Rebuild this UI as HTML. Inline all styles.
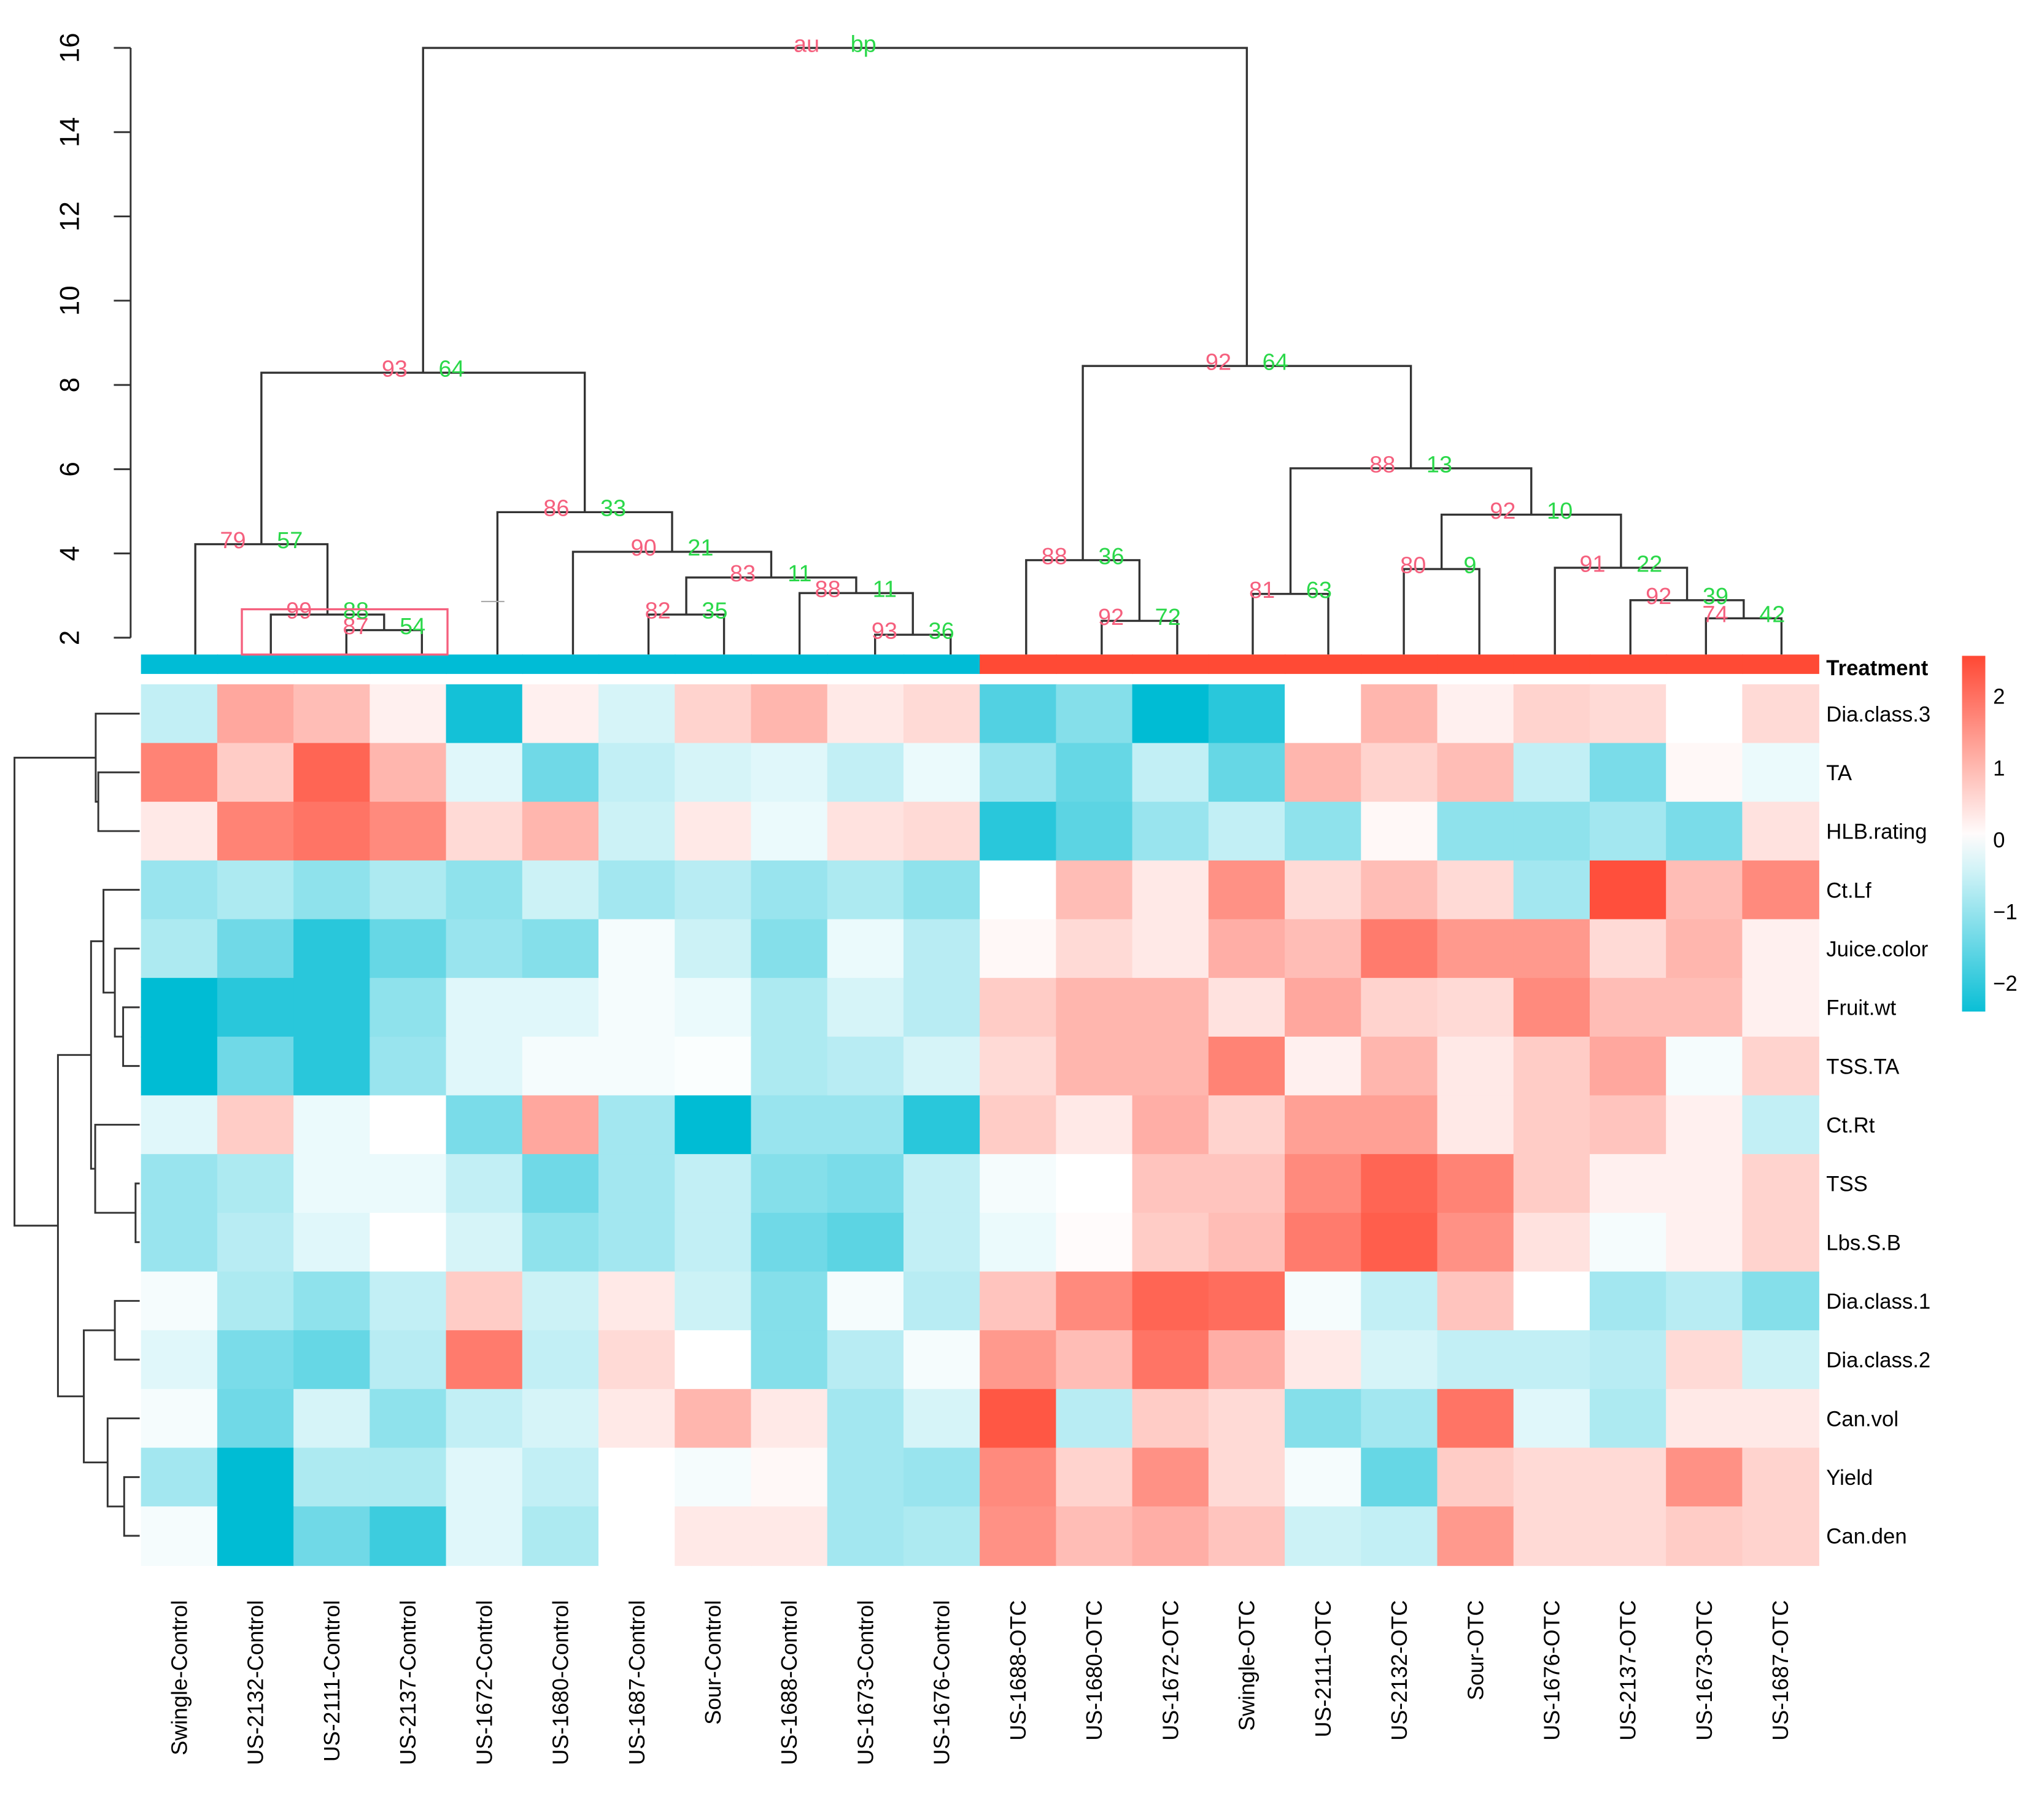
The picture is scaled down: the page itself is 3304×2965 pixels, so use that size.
<!DOCTYPE html>
<html><head><meta charset="utf-8">
<style>
html,body{margin:0;padding:0;background:#fff;}
svg{display:block;}
text{font-family:"Liberation Sans",sans-serif;}
</style></head>
<body>
<svg id="chart" width="3304" height="2965" viewBox="0 0 1568 1407" preserveAspectRatio="none" xmlns="http://www.w3.org/2000/svg">
<rect x="0" y="0" width="1568" height="1407" fill="#fff"/>
<g id="g-heat"></g>
<g id="g-coldendro"></g>
<g id="g-rowdendro"></g>
<g id="g-labels"></g>
<g id="g-axis"></g>
<g id="g-legend"></g>
</svg>
<script>
const colLabels = ["Swingle-Control","US-2132-Control","US-2111-Control","US-2137-Control","US-1672-Control","US-1680-Control","US-1687-Control","Sour-Control","US-1688-Control","US-1673-Control","US-1676-Control","US-1688-OTC","US-1680-OTC","US-1672-OTC","Swingle-OTC","US-2111-OTC","US-2132-OTC","Sour-OTC","US-1676-OTC","US-2137-OTC","US-1673-OTC","US-1687-OTC"];
const treatment = ["Control","Control","Control","Control","Control","Control","Control","Control","Control","Control","Control","OTC","OTC","OTC","OTC","OTC","OTC","OTC","OTC","OTC","OTC","OTC"];
const rowLabels = ["Dia.class.3","TA","HLB.rating","Ct.Lf","Juice.color","Fruit.wt","TSS.TA","Ct.Rt","TSS","Lbs.S.B","Dia.class.1","Dia.class.2","Can.vol","Yield","Can.den"];
const rowDiaClass3 = [-0.6,1.2,0.9,0.2,-2.3,0.2,-0.4,0.6,1.0,0.3,0.5,-1.7,-1.2,-2.5,-2.1,0,1.0,0.2,0.6,0.5,0,0.5];
const rowTA = [1.7,0.7,2.1,1.0,-0.3,-1.4,-0.6,-0.4,-0.3,-0.6,-0.2,-1.0,-1.5,-0.6,-1.5,1.0,0.6,0.9,-0.6,-1.3,0.1,-0.2];
const rowHLB = [0.3,1.7,1.9,1.6,0.5,1.0,-0.5,0.3,-0.2,0.4,0.5,-2.1,-1.6,-1.0,-0.6,-1.1,0.1,-1.1,-1.1,-0.9,-1.3,0.4];
const rowCtLf = [-1.0,-0.8,-1.1,-0.8,-1.1,-0.5,-0.9,-0.7,-1.0,-0.8,-1.1,0,0.9,0.3,1.5,0.5,0.9,0.5,-0.9,2.4,0.9,1.6];
const rowJuice = [-0.8,-1.4,-2.1,-1.5,-1.0,-1.2,-0.1,-0.5,-1.2,-0.2,-0.7,0.1,0.5,0.3,1.1,0.9,1.8,1.4,1.4,0.5,1.0,0.2];
const rowFruit = [-2.5,-2.1,-2.1,-1.1,-0.3,-0.3,-0.1,-0.2,-0.8,-0.4,-0.7,0.7,1.0,1.0,0.4,1.2,0.6,0.5,1.6,0.9,0.9,0.2];
const rowTSSTA = [-2.5,-1.4,-2.1,-1.0,-0.3,-0.1,-0.1,-0.05,-0.8,-0.7,-0.4,0.5,1.0,1.0,1.7,0.2,1.0,0.3,0.7,1.2,-0.1,0.6];
const rowCtRt = [-0.3,0.7,-0.2,0,-1.3,1.2,-0.9,-2.5,-1.0,-1.0,-2.1,0.7,0.3,1.1,0.6,1.3,1.3,0.3,0.7,0.8,0.2,-0.6];
const rowTSS = [-1.0,-0.8,-0.2,-0.2,-0.6,-1.4,-0.9,-0.6,-1.2,-1.3,-0.6,-0.1,0,0.8,0.8,1.6,2.1,1.7,0.7,0.2,0.2,0.6];
const rowLbs = [-1.0,-0.7,-0.3,0,-0.4,-1.1,-0.9,-0.6,-1.4,-1.6,-0.6,-0.2,0.05,0.7,0.9,1.8,2.2,1.5,0.4,-0.1,0.2,0.6];
const rowDia1 = [-0.1,-0.8,-1.1,-0.6,0.7,-0.5,0.3,-0.5,-1.2,-0.1,-0.7,0.8,1.6,2.1,2.0,-0.1,-0.6,0.8,0,-0.9,-0.7,-1.2];
const rowDia2 = [-0.3,-1.3,-1.5,-0.7,1.8,-0.6,0.5,0,-1.2,-0.7,-0.1,1.4,0.9,1.9,1.1,0.3,-0.4,-0.6,-0.6,-0.7,0.5,-0.5];
const rowCanVol = [-0.1,-1.4,-0.4,-1.1,-0.6,-0.4,0.3,1.0,0.3,-0.9,-0.4,2.3,-0.7,0.7,0.5,-1.2,-0.9,1.9,-0.3,-0.8,0.3,0.3];
const rowYield = [-0.9,-2.5,-0.8,-0.8,-0.3,-0.6,0,-0.1,0.1,-0.9,-1.0,1.6,0.6,1.5,0.5,-0.1,-1.5,0.7,0.5,0.5,1.5,0.6];
const rowCanDen = [-0.1,-2.5,-1.4,-1.9,-0.3,-0.8,0,0.3,0.3,-0.9,-0.8,1.5,0.9,1.1,0.8,-0.5,-0.6,1.4,0.5,0.5,0.7,0.6];
const values = [rowDiaClass3,rowTA,rowHLB,rowCtLf,rowJuice,rowFruit,rowTSSTA,rowCtRt,rowTSS,rowLbs,rowDia1,rowDia2,rowCanVol,rowYield,rowCanDen];
// column merges: [left, right, height, au, bp]
const colMerges = [[2,3,2.18,"87","54"],[1,22,2.55,"99","88"],[0,23,4.22,"79","57"],[9,10,2.07,"93","36"],[8,25,3.06,"88","11"],[6,7,2.55,"82","35"],[27,26,3.43,"83","11"],[5,28,4.04,"90","21"],[4,29,4.98,"86","33"],[24,30,8.29,"93","64"],[12,13,2.40,"92","72"],[11,32,3.84,"88","36"],[14,15,3.04,"81","63"],[16,17,3.63,"80","9"],[20,21,2.46,"74","42"],[19,36,2.89,"92","39"],[18,37,3.66,"91","22"],[35,38,4.92,"92","10"],[34,39,6.02,"88","13"],[33,40,8.45,"92","64"],[31,41,16,"au","bp"]];
// row merges: [left, right, height]
const rowMerges = [[1,2,4.0],[0,15,4.25],[5,6,1.6],[4,17,2.4],[3,18,3.5],[8,9,0.4],[7,20,4.3],[19,21,4.7],[10,11,2.4],[13,14,1.5],[12,24,3.1],[23,25,5.4],[22,26,7.9],[16,27,12.1]];
const yTicks = [2,4,6,8,10,12,14,16];
const legendTicks = [2,1,0,-1,-2];

const NS="http://www.w3.org/2000/svg";
function mk(tag, attrs, parent){const e=document.createElementNS(NS,tag);for(const k in attrs)e.setAttribute(k,attrs[k]);parent.appendChild(e);return e;}
const HX0=109, HX1=1406, HY0=529, HY1=1210;
const nC=colLabels.length, nR=rowLabels.length;
const cw=(HX1-HX0)/nC, rh=(HY1-HY0)/nR;
const cx=i=>HX0+cw*(i+0.5);
const ry=r=>HY0+rh*(r+0.5);
const hY=h=>493-(h-2)*32.57;
const leafX=i=>151+58.4*i;
const rowHX=h=>108-h*8;
const legY=v=>649-v*55.5;
function color(v){
  const t=Math.max(-1,Math.min(1,v/2.5));
  let r,g,b;
  if(t<0){const a=-t;r=255+(0-255)*a;g=255+(188-255)*a;b=255+(212-255)*a;}
  else{const a=t;r=255;g=255+(72-255)*a;b=255+(52-255)*a;}
  return `rgb(${Math.round(r)},${Math.round(g)},${Math.round(b)})`;
}
// heatmap
const gh=document.getElementById('g-heat');
for(let r=0;r<nR;r++)for(let c=0;c<nC;c++){
  const e=mk('rect',{x:HX0+c*cw,y:HY0+r*rh,width:cw+0.6,height:rh+0.6,fill:color(values[r][c])},gh);
  
  
}
// treatment bar
for(let c=0;c<nC;c++){
  const e=mk('rect',{x:HX0+c*cw,y:506,width:cw+0.6,height:15,fill:treatment[c]==="Control"?"#00BCD6":"#FF4A35"},gh);
  
  
}
// column dendrogram
const gc=document.getElementById('g-coldendro');
const cpos={};
for(let i=0;i<nC;i++)cpos[i]={x:leafX(i),y:506};
colMerges.forEach((m,k)=>{
  const L=cpos[m[0]],R=cpos[m[1]],y=hY(m[2]);
  const p=mk('path',{d:`M${L.x},${L.y}V${y}H${R.x}V${R.y}`,fill:"none",stroke:"#333",'stroke-width':1.6},gc);
  
  
  const mx=(L.x+R.x)/2;
  cpos[nC+k]={x:mx,y:y};
  const a=mk('text',{x:mx-22,y:y+3,'font-size':18,fill:"#F5607E",'text-anchor':'middle'},gc);a.textContent=m[3];
  
  
  const b=mk('text',{x:mx+22,y:y+3,'font-size':18,fill:"#2BD84A",'text-anchor':'middle'},gc);b.textContent=m[4];
  
  
});
const box=mk('rect',{x:187,y:471,width:159,height:35,fill:"none",stroke:"#F5607E",'stroke-width':1.6},gc);


mk('line',{x1:372,x2:390,y1:465,y2:465,stroke:"#aaa",'stroke-width':1},gc);
// row dendrogram
const gr=document.getElementById('g-rowdendro');
const rpos={};
for(let i=0;i<nR;i++)rpos[i]={x:108,y:ry(i)};
rowMerges.forEach((m,k)=>{
  const T=rpos[m[0]],B=rpos[m[1]],x=rowHX(m[2]);
  const p=mk('path',{d:`M${T.x},${T.y}H${x}V${B.y}H${B.x}`,fill:"none",stroke:"#333",'stroke-width':1.4},gr);
  
  
  rpos[nR+k]={x:x,y:(T.y+B.y)/2};
});
// labels
const gl=document.getElementById('g-labels');
rowLabels.forEach((t,r)=>{
  const e=mk('text',{x:1412,y:ry(r)+6,'font-size':16.5,fill:"#000"},gl);e.textContent=t;
  
  
});
colLabels.forEach((t,c)=>{
  const x=cx(c)+6,y=1237;
  const e=mk('text',{x:x,y:y,'font-size':17,fill:"#000",'text-anchor':'end',transform:`rotate(-90 ${x} ${y})`},gl);e.textContent=t;
  
  
});
const tl=mk('text',{x:1412,y:522,'font-size':16.5,'font-weight':'bold',fill:"#000"},gl);tl.textContent="Treatment";


// axis
const ga=document.getElementById('g-axis');
mk('line',{x1:101,x2:101,y1:hY(16),y2:hY(2),stroke:"#333",'stroke-width':1.4},ga);
yTicks.forEach(v=>{
  const y=hY(v);
  mk('line',{x1:88,x2:101,y1:y,y2:y,stroke:"#333",'stroke-width':1.4},ga);
  const e=mk('text',{x:61,y:y,'font-size':21,fill:"#000",'text-anchor':'middle',transform:`rotate(-90 61 ${y})`},ga);e.textContent=v;
  
  
});
// legend
const gg=document.getElementById('g-legend');
const defs=mk('defs',{},gg);
const lg=mk('linearGradient',{id:'lg',x1:0,y1:0,x2:0,y2:1},defs);
for(let i=0;i<=10;i++){const v=2.5-i*0.49;mk('stop',{offset:i/10,'stop-color':color(v)},lg);}
const lb=mk('rect',{x:1517,y:507,width:18,height:275,fill:"url(#lg)"},gg);


legendTicks.forEach(v=>{
  const e=mk('text',{x:1541,y:legY(v)+6,'font-size':16.5,fill:"#000"},gg);e.textContent=v<0?"\u2212"+(-v):String(v);
  
  
});
</script>
</body></html>
